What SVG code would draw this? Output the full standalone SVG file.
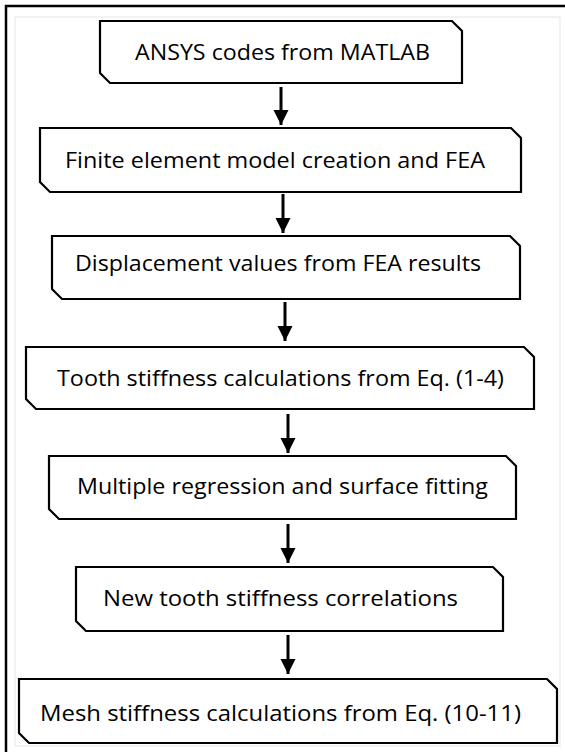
<svg xmlns="http://www.w3.org/2000/svg" width="565" height="752" viewBox="0 0 565 752">
<defs>
<style>
.box{fill:#ffffff;stroke:#000000;stroke-width:2.2;stroke-linejoin:miter}
.lbl{font-family:"Open Sans","Noto Sans","Liberation Sans",sans-serif;font-size:22.5px;font-weight:400;fill:#000000;text-anchor:middle}
.con{stroke:#000000;stroke-width:3;fill:none}
</style>
<marker id="ah" markerUnits="userSpaceOnUse" markerWidth="16" markerHeight="16" viewBox="0 0 16 16" refX="15" refY="8" orient="auto">
<path d="M0,0.5 L15,8 L0,15.5 Z" fill="#000000"/>
</marker>
</defs>
<rect x="0" y="0" width="565" height="752" fill="#ffffff"/>
<rect x="6" y="6" width="600" height="800" fill="none" stroke="#000000" stroke-width="2.5"/>
<rect x="15" y="17" width="545" height="729" fill="#ffffff" stroke="#eeeeee" stroke-width="1.5"/>
<g id="connectors">
<line class="con" x1="281" y1="87" x2="281" y2="125" marker-end="url(#ah)"/>
<line class="con" x1="283" y1="194" x2="283" y2="233" marker-end="url(#ah)"/>
<line class="con" x1="285" y1="302" x2="285" y2="341" marker-end="url(#ah)"/>
<line class="con" x1="288" y1="414" x2="288" y2="453" marker-end="url(#ah)"/>
<line class="con" x1="288" y1="524" x2="288" y2="563" marker-end="url(#ah)"/>
<line class="con" x1="288" y1="635" x2="288" y2="674" marker-end="url(#ah)"/>
</g>
<g id="n1">
<path class="box" d="M100,21 H452 L462,31 V83 H110 L100,73 Z"/>
<text class="lbl" x="282.5" y="60" textLength="295" lengthAdjust="spacingAndGlyphs">ANSYS codes from MATLAB</text>
</g>
<g id="n2">
<path class="box" d="M40,128 H511 L521,138 V192 H50 L40,182 Z"/>
<text class="lbl" x="275" y="168" textLength="420" lengthAdjust="spacingAndGlyphs">Finite element model creation and FEA</text>
</g>
<g id="n3">
<path class="box" d="M52,236 H510 L520,246 V299 H62 L52,289 Z"/>
<text class="lbl" x="278" y="271" textLength="406" lengthAdjust="spacingAndGlyphs">Displacement values from FEA results</text>
</g>
<g id="n4">
<path class="box" d="M26,347 H524 L534,357 V409 H36 L26,399 Z"/>
<text class="lbl" x="280.5" y="386" textLength="447" lengthAdjust="spacingAndGlyphs">Tooth stiffness calculations from Eq. (1-4)</text>
</g>
<g id="n5">
<path class="box" d="M49,456 H506 L516,466 V519 H59 L49,509 Z"/>
<text class="lbl" x="282.5" y="494" textLength="411" lengthAdjust="spacingAndGlyphs">Multiple regression and surface fitting</text>
</g>
<g id="n6">
<path class="box" d="M76,567 H493 L503,577 V631 H86 L76,621 Z"/>
<text class="lbl" x="280.5" y="606" textLength="355" lengthAdjust="spacingAndGlyphs">New tooth stiffness correlations</text>
</g>
<g id="n7">
<path class="box" d="M19,679 H547 L557,689 V743 H29 L19,733 Z"/>
<text class="lbl" x="280.5" y="721" textLength="481" lengthAdjust="spacingAndGlyphs">Mesh stiffness calculations from Eq. (10-11)</text>
</g>
</svg>
